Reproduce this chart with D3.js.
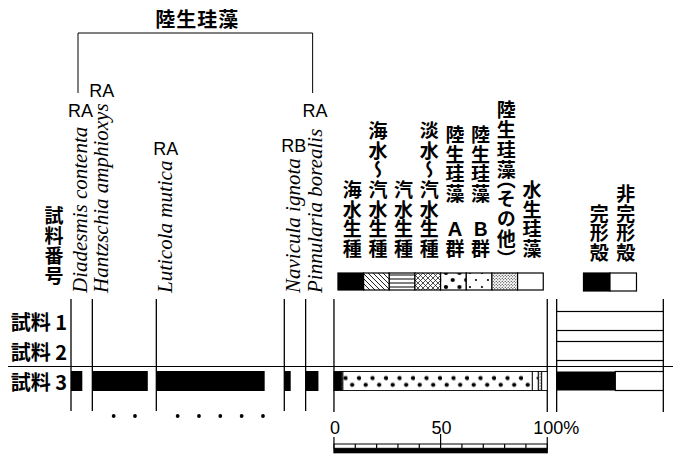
<!doctype html>
<html lang="ja">
<head>
  <meta charset="utf-8">
  <title>陸生珪藻</title>
  <script src="https://cdn.jsdelivr.net/npm/d3@7"></script>
  <style>
    body { margin: 0; background: #fff; }
    svg { display: block; }
    .jp { font-family: "Noto Sans CJK JP", sans-serif; font-weight: bold; fill: #000; }
    .latin { font-family: "Liberation Sans", Arial, sans-serif; fill: #000; }
    .sp { font-family: "Liberation Serif", "Times New Roman", serif; font-style: italic; fill: #000; }
  </style>
</head>
<body>
  <div id="chart"></div>
  <script>
    // data (percent of counted diatoms)
    const samples = ["試料 1", "試料 2", "試料 3"];
    const species = ["Diadesmis contenta", "Hantzschia amphioxys", "Luticola mutica", "Navicula ignota", "Pinnularia borealis"];
    const speciesGroup = ["RA", "RA", "RA", "RB", "RA"];
    const speciesValues = [
      [0, 0, 0, 0, 0],
      [0, 0, 0, 0, 0],
      [5.3, 26.0, 50.8, 3.0, 6.0]
    ];
    const bracketTitle = "陸生珪藻";
    const ecoGroups = ["海水生種", "海水～汽水生種", "汽水生種", "淡水～汽水生種", "陸生珪藻Ａ群", "陸生珪藻Ｂ群", "陸生珪藻（その他）", "水生珪藻"];
    const ecoValues = [
      [0, 0, 0, 0, 0, 0, 0, 0],
      [0, 0, 0, 0, 0, 0, 0, 0],
      [3.5, 0, 0, 0.7, 88.8, 2.8, 1.6, 2.6]
    ];
    const shellGroups = ["完形殻", "非完形殻"];
    const intactValues = [0, 0, 55];
    const axisTicks = [0, 50, 100];
    const sampleHeader = "試料番号";

    const W = 673, H = 454;
    const pxPerPct = 2.133;
    const left0 = 71;
    const lineTop = 299, lineBottom = 411;
    const barH = 19;

    const svg = d3.select("#chart").append("svg").attr("width", W).attr("height", H);
    const defs = svg.append("defs");

    // scales
    const pct = d3.scaleLinear().domain([0, 100]).range([0, 100 * pxPerPct]);
    const rowY = d3.scalePoint().domain(samples).range([321, 381]);

    // species columns: each is as wide as its max value rounded up to 10%
    const colPct = species.map((s, i) => Math.ceil(d3.max(speciesValues, r => r[i]) / 10) * 10);
    const colStart = colPct.map((c, i) => d3.sum(colPct.slice(0, i)));
    const spX = d3.scaleLinear().domain([0, d3.sum(colPct)]).range([left0, left0 + pct(d3.sum(colPct))]);
    const ecoX = d3.scaleLinear().domain([0, 100]).range([spX(d3.sum(colPct)) + 7, spX(d3.sum(colPct)) + 7 + pct(100)]);
    const shellX = d3.scaleLinear().domain([0, 100]).range([ecoX(100) + 9.4, ecoX(100) + 9.4 + pct(50)]);

    // patterns
    function addPattern(id, w, h, x, y, draw) {
      const p = defs.append("pattern").attr("id", id)
        .attr("patternUnits", "userSpaceOnUse")
        .attr("width", w).attr("height", h).attr("x", x).attr("y", y);
      p.append("rect").attr("width", w).attr("height", h).attr("fill", "#fff");
      draw(p, w, h);
    }
    function dotsAt(r, pts) {
      return p => pts.forEach(([cx, cy]) => p.append("circle").attr("cx", cx).attr("cy", cy).attr("r", r).attr("fill", "#000"));
    }
    function strokes(d, sw) {
      return p => p.append("path").attr("d", d).attr("stroke", "#000").attr("stroke-width", sw).attr("fill", "none");
    }
    function makePatterns(prefix, x, y, dotRows) {
      addPattern(prefix + "diag", 5, 5, x, y, strokes("M-1,-1L6,6M-1,4L1,6M4,-1L6,1", 0.9));
      addPattern(prefix + "horiz", 6, 4, x, y, strokes("M0,2H6", 1));
      addPattern(prefix + "cross", 5, 5, x, y, strokes("M-1,-1L6,6M-1,4L1,6M4,-1L6,1M-1,6L6,-1M-1,1L1,-1M4,6L6,4", 0.7));
      addPattern(prefix + "big", 13.5, dotRows.h, x, y, dotsAt(2.1, dotRows.pts(13.5)));
      addPattern(prefix + "small", 12, dotRows.h, x, y, dotsAt(1.1, dotRows.pts(12)));
      addPattern(prefix + "stip", 3, 3, x, y, dotsAt(0.6, [[0.75, 0.75], [2.25, 2.25]]));
    }
    function fillFor(prefix, i) {
      return ["#000", `url(#${prefix}diag)`, `url(#${prefix}horiz)`, `url(#${prefix}cross)`,
        `url(#${prefix}big)`, `url(#${prefix}small)`, `url(#${prefix}stip)`, "#fff"][i];
    }

    // ---- bracket + title over the terrestrial species
    const labelX = i => spX(colStart[i]) + 9.5;
    const legL = spX(colStart[0]) + 7, legR = spX(colStart[species.length - 1]) + 7;
    const bracketY = 33, legBottom = 93;
    svg.append("path")
      .attr("d", `M${legL},${legBottom}V${bracketY}H${legR}V${legBottom}`)
      .attr("fill", "none").attr("stroke", "#000").attr("stroke-width", 1);
    svg.append("text").attr("class", "jp")
      .attr("x", (legL + legR) / 2 + 2).attr("y", 27)
      .attr("text-anchor", "middle").style("font-size", "20px")
      .style("letter-spacing", "1px")
      .text(bracketTitle);

    // ---- species names (rotated) and group codes
    const textBase = 293;
    species.forEach((name, i) => {
      const x = spX(colStart[i]);
      const t = svg.append("text").attr("class", "sp")
        .attr("transform", `translate(${x + 16},${textBase}) rotate(-90)`)
        .style("font-size", "21px")
        .text(name);
      const top = textBase - t.node().getComputedTextLength();
      const isEnd = i === 0 || i === species.length - 1;
      const ly = isEnd ? Math.min(top - 6, legBottom + 24) : top - 6;
      svg.append("text").attr("class", "latin")
        .attr("x", labelX(i)).attr("y", ly)
        .attr("text-anchor", "middle").style("font-size", "18px")
        .text(speciesGroup[i]);
    });

    // ---- vertical (tategaki) text, one text element per column
    function vtext(str, cx, bottom, size, ls) {
      const t = svg.append("text").attr("class", "jp")
        .attr("x", cx).attr("y", bottom)
        .attr("text-anchor", "end")
        .style("writing-mode", "vertical-rl")
        .style("font-size", size + "px")
        .style("letter-spacing", ls + "px")
        .text(str);
      // brackets set half-width, as in the print
      if (/[（）]/.test(str)) t.style("font-feature-settings", '"vhal" 1');
      return t;
    }

    vtext(sampleHeader, 54, 286, 19, 1);

    // ---- ecological group legend
    const lgTop = 273, lgH = 17;
    const lgX = d3.scaleBand().domain(ecoGroups).range([ecoX(0) + 4, ecoX(100) - 4]);
    makePatterns("lg-", lgX(ecoGroups[0]), lgTop, {
      h: 14, pts: w => [[0, 0], [w, 0], [0, 14], [w, 14], [w / 2, 7]]
    });
    ecoGroups.forEach((g, i) => {
      // a little air above the Latin group letter, as in the print
      vtext(g.replace(/([ＡＢ])/, "\u2002\u2005$1"), lgX(g) + lgX.bandwidth() / 2 + 1.5, 259, 19, 0.7);
      svg.append("rect")
        .attr("x", lgX(g)).attr("y", lgTop)
        .attr("width", lgX.bandwidth()).attr("height", lgH)
        .attr("fill", fillFor("lg-", i))
        .attr("stroke", "#000").attr("stroke-width", 1.2);
    });

    // ---- shell legend
    const shX = d3.scaleBand().domain(shellGroups).range([(shellX(0) + shellX(100)) / 2 - 26.5, (shellX(0) + shellX(100)) / 2 + 26.5]);
    shellGroups.forEach((g, i) => {
      vtext(g, shX(g) + shX.bandwidth() / 2 + 2.5, 263, 19, 0.7);
      svg.append("rect")
        .attr("x", shX(g)).attr("y", lgTop)
        .attr("width", shX.bandwidth()).attr("height", lgH + 1)
        .attr("fill", i === 0 ? "#000" : "#fff")
        .attr("stroke", "#000").attr("stroke-width", 1.2);
    });

    // ---- sample labels
    samples.forEach(s => {
      svg.append("text").attr("class", "jp")
        .attr("x", 67).attr("y", rowY(s))
        .attr("text-anchor", "end").attr("dominant-baseline", "central")
        .style("font-size", "20px")
        .text(s);
    });

    // ---- species bars
    const gSp = svg.append("g");
    species.forEach((name, i) => {
      const x = spX(colStart[i]);
      gSp.append("line").attr("x1", x).attr("x2", x).attr("y1", lineTop).attr("y2", lineBottom)
        .attr("stroke", "#000").attr("stroke-width", 1.3);
      samples.forEach((s, k) => {
        const v = speciesValues[k][i];
        if (v > 0) {
          gSp.append("rect").attr("x", x).attr("y", rowY(s) - 10)
            .attr("width", pct(v)).attr("height", 20).attr("fill", "#000");
        }
      });
      // one dot per 10% under the largest value
      const maxV = d3.max(speciesValues, r => r[i]);
      d3.range(10, maxV + 0.001, 10).forEach(p => {
        gSp.append("circle").attr("cx", x + pct(p)).attr("cy", 416).attr("r", 1.9).attr("fill", "#000");
      });
    });

    // ---- ecological composition bars
    [0, 100].forEach(v => {
      svg.append("line").attr("x1", ecoX(v)).attr("x2", ecoX(v)).attr("y1", lineTop).attr("y2", lineBottom + 1)
        .attr("stroke", "#000").attr("stroke-width", 1.3);
    });
    samples.forEach((s, k) => {
      const vals = ecoValues[k];
      if (d3.sum(vals) === 0) return;
      const top = rowY(s) - barH / 2;
      makePatterns("b" + k + "-", ecoX(0), top, {
        h: barH, pts: w => [[11.5, 6.6], [4.75, 13.3]]
      });
      let acc = 0;
      vals.forEach((v, i) => {
        if (v > 0) {
          svg.append("rect").attr("x", ecoX(acc)).attr("y", top)
            .attr("width", ecoX(acc + v) - ecoX(acc)).attr("height", barH)
            .attr("fill", fillFor("b" + k + "-", i))
            .attr("stroke", "#000").attr("stroke-width", 0.9);
        }
        acc += v;
      });
    });

    // ---- intact / broken shells
    [0, 100].forEach(v => {
      svg.append("line").attr("x1", shellX(v)).attr("x2", shellX(v)).attr("y1", lineTop).attr("y2", lineBottom + 1)
        .attr("stroke", "#000").attr("stroke-width", 1.3);
    });
    samples.forEach((s, k) => {
      const top = rowY(s) - barH / 2;
      const v = intactValues[k];
      svg.append("rect").attr("x", shellX(0)).attr("y", top)
        .attr("width", shellX(v) - shellX(0)).attr("height", barH).attr("fill", "#000");
      svg.append("rect").attr("x", shellX(v)).attr("y", top)
        .attr("width", shellX(100) - shellX(v)).attr("height", barH)
        .attr("fill", "#fff").attr("stroke", "#000").attr("stroke-width", 1.2);
    });

    // ---- boundary line between sample 2 and 3
    const sepY = (rowY(samples[1]) + rowY(samples[2])) / 2 + 0.5;
    svg.append("line").attr("x1", 8).attr("x2", W).attr("y1", sepY).attr("y2", sepY)
      .attr("stroke", "#000").attr("stroke-width", 1);

    // ---- scale bar
    const rulerTop = 444;
    svg.append("rect").attr("x", ecoX(0)).attr("y", rulerTop).attr("width", pct(100)).attr("height", 4.3)
      .attr("fill", "#fff").attr("stroke", "#000").attr("stroke-width", 1);
    svg.append("rect").attr("x", ecoX(0)).attr("y", rulerTop + 4.3).attr("width", pct(100)).attr("height", 5)
      .attr("fill", "#000");
    d3.range(0, 101, 10).forEach(v => {
      const long = axisTicks.includes(v);
      const y1 = v === 50 ? 434 : (long ? 437 : rulerTop);
      svg.append("line").attr("x1", ecoX(v)).attr("x2", ecoX(v))
        .attr("y1", y1).attr("y2", long && v !== 50 ? rulerTop + 9.3 : rulerTop + 4.3)
        .attr("stroke", "#000").attr("stroke-width", 1.2);
    });
    axisTicks.forEach(v => {
      const t = svg.append("text").attr("class", "latin")
        .attr("y", 434).style("font-size", "18px").text(v);
      const w = t.node().getComputedTextLength();
      t.attr("x", ecoX(v) + 1 - w / 2);
      if (v === 100) t.append("tspan").text("%");
    });
  </script>
</body>
</html>
